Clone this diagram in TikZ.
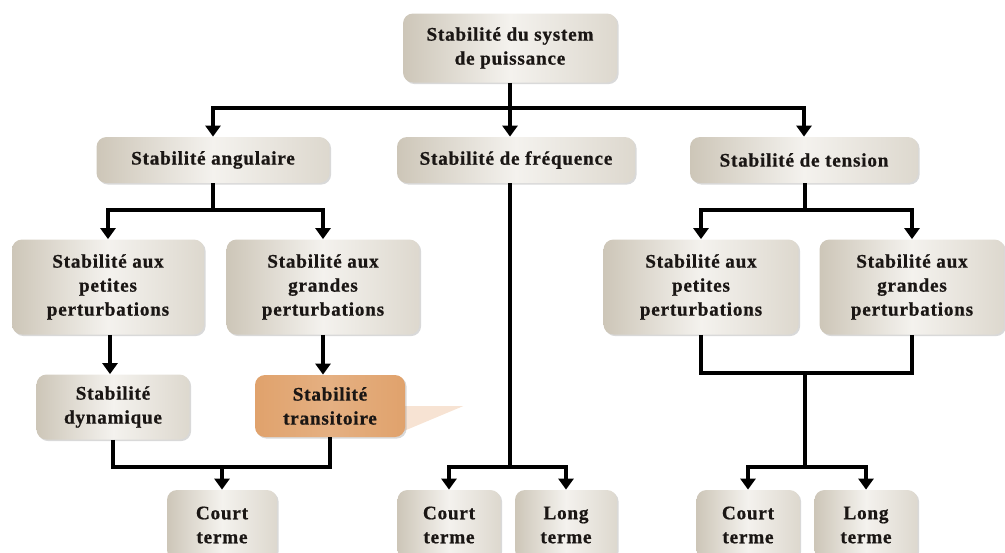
\documentclass[tikz,border=0pt]{standalone}
\usepackage{fontspec}
\setmainfont{Liberation Serif}[LetterSpace=4, BoldFeatures={FakeBold=0.8}]
\usepackage{xcolor}
\usetikzlibrary{positioning,arrows.meta,shadows,backgrounds}
\definecolor{boxdark}{HTML}{CDC6B8}
\definecolor{boxlight}{HTML}{F4F2EE}
\definecolor{boxmid}{HTML}{DDD8CE}
\definecolor{orangebox}{HTML}{E0A26C}
\definecolor{tailpeach}{HTML}{F7E3D3}
\definecolor{inkdark}{HTML}{1A1614}

\begin{document}
\begin{tikzpicture}[x=0.5pt, y=-0.5pt, >={Triangle[width=7.5pt,length=5.5pt]},
    stab/.style={rounded corners=5pt, left color=boxdark, right color=boxmid, middle color=boxlight,
        drop shadow={shadow xshift=0.8pt, shadow yshift=-0.8pt, opacity=0.3},
        align=center, text=inkdark, inner sep=2pt,
        font=\bfseries\fontsize{9.6}{12}\selectfont},
    hot/.style={stab, left color=orangebox, right color=orangebox, middle color=orangebox!85!white},
    link/.style={line width=2pt}]
    \useasboundingbox (0,0) rectangle (1005,552);

    % Root
    \node[stab, minimum width=107pt, minimum height=34.5pt] (sys) at (510,48) {Stabilité du system\\de puissance};

    % Three families
    \node[stab, minimum width=116.5pt, minimum height=23pt] (ang) at (213,160) {Stabilité angulaire};
    \node[stab, minimum width=119pt, minimum height=23pt] (freq) at (516,160) {Stabilité de fréquence};
    \node[stab, minimum width=114pt, minimum height=23pt] (tens) at (804,160) {Stabilité de tension};

    % Perturbations
    \node[stab, minimum width=96pt, minimum height=47.5pt] (petA) at (108,287) {Stabilité aux\\petites\\perturbations};
    \node[stab, minimum width=96.5pt, minimum height=47.5pt] (graA) at (323,287) {Stabilité aux\\grandes\\perturbations};
    \node[stab, minimum width=97.5pt, minimum height=47.5pt] (petT) at (701,287) {Stabilité aux\\petites\\perturbations};
    \node[stab, minimum width=92.5pt, minimum height=47.5pt] (graT) at (912,287) {Stabilité aux\\grandes\\perturbations};

    % Dynamique / transitoire
    \node[stab, minimum width=76.5pt, minimum height=32.5pt] (dyn) at (113,407) {Stabilité\\dynamique};
    \node[hot, minimum width=75pt, minimum height=31pt] (tra) at (330,406) {Stabilité\\transitoire};
    \begin{pgfonlayer}{background}
        \fill[tailpeach] ([xshift=-2pt]tra.east) -- ++(62,0) -- ++(-62,26) -- cycle;
    \end{pgfonlayer}

    % Terms
    \node[stab, minimum width=55pt, minimum height=35pt] (courtA) at (222,525) {Court\\terme};
    \node[stab, minimum width=51.5pt, minimum height=35pt] (courtF) at (449,525) {Court\\terme};
    \node[stab, minimum width=51pt, minimum height=35pt] (longF) at (566,525) {Long\\terme};
    \node[stab, minimum width=51.5pt, minimum height=35pt] (courtT) at (748,525) {Court\\terme};
    \node[stab, minimum width=51.5pt, minimum height=35pt] (longT) at (866,525) {Long\\terme};

    % Bus points
    \coordinate (b1) at (510,108);
    \coordinate (b2) at (213,210);
    \coordinate (b3) at (805,210);
    \coordinate (b4) at (222,467);
    \coordinate (b5) at (510,467);
    \coordinate (b6) at (805,373);
    \coordinate (b7) at (805,467);

    % Connectors
    \draw[link, ->] (sys.south) -- (sys.south |- freq.north);
    \draw[link, ->] (b1) -| (ang.north);
    \draw[link, ->] (b1) -| (tens.north);

    \draw[link] (ang.south) -- (b2);
    \draw[link, ->] (b2) -| (petA.north);
    \draw[link, ->] (b2) -| (graA.north);
    \draw[link] (tens.south -| b3) -- (b3);
    \draw[link, ->] (b3) -| (petT.north);
    \draw[link, ->] (b3) -| (graT.north);

    \draw[link, ->] ([xshift=1pt]petA.south) -- ([xshift=1pt]petA.south |- dyn.north);
    \draw[link, ->] (graA.south) -- (graA.south |- tra.north);

    \draw[link] (dyn.south) |- (b4) -| (tra.south);
    \draw[link, ->] (b4) -- (courtA.north);

    \draw[link] (sys.south |- freq.south) -- (b5);
    \draw[link, ->] (b5) -| (courtF.north);
    \draw[link, ->] (b5) -| (longF.north);

    \draw[link] (petT.south) |- (b6) -| (graT.south);
    \draw[link] (b6) -- (b7);
    \draw[link, ->] (b7) -| (courtT.north);
    \draw[link, ->] (b7) -| (longT.north);
\end{tikzpicture}
\end{document}
